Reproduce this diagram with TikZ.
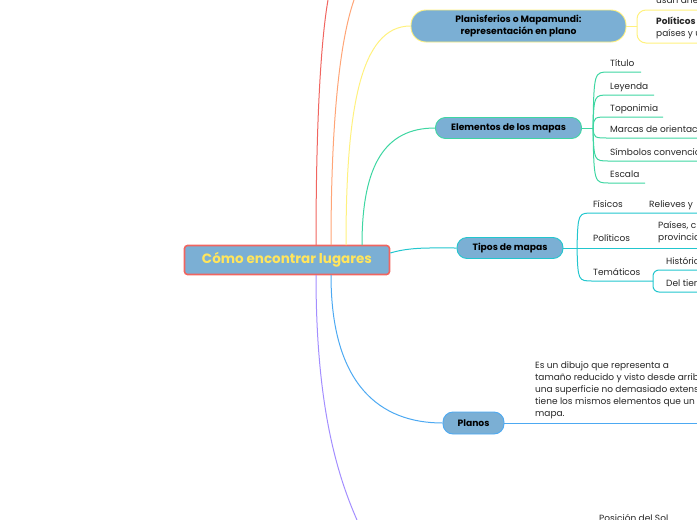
\documentclass[tikz,border=0pt]{standalone}
\usepackage{fontspec}
\setmainfont{Poppins}
\usepackage{tikz}
\usetikzlibrary{positioning}
\definecolor{mmblue}{HTML}{7BAFD4}
\definecolor{mmred}{HTML}{F06560}
\definecolor{mmorange}{HTML}{FFA577}
\definecolor{mmyellow}{HTML}{FFF17E}
\definecolor{mmgreen}{HTML}{3ED6A2}
\definecolor{mmcyan}{HTML}{22C6CE}
\definecolor{mmsky}{HTML}{4DA9F2}
\definecolor{mmviolet}{HTML}{A38EFF}
\definecolor{mmtitle}{HTML}{FFE55C}
\definecolor{mmtext}{HTML}{262626}

\begin{document}
\begin{tikzpicture}[x=1pt, y=-1pt,
  topic/.style={rectangle, rounded corners=10pt, fill=mmblue, line width=0.9pt,
                inner sep=0pt, align=center, text=black,
                font=\fontsize{9.2}{12.5}\selectfont\bfseries},
  leaf/.style={anchor=base west, inner sep=0pt, text=mmtext, align=left,
               font=\fontsize{9}{12}\selectfont},
  branch/.style={line width=1pt}]
  \useasboundingbox (0,0) rectangle (697,520);
  \clip (0,0) rectangle (697,520);

  % central topic
  \node[rectangle, rounded corners=3pt, fill=mmblue, draw=mmred, line width=1.6pt,
        minimum width=205pt, minimum height=29pt, text=mmtitle,
        font=\fontsize{13.5}{15}\selectfont\bfseries] (root) at (287,260) {Cómo encontrar lugares};

  % main topics
  \node[topic, draw=mmyellow, minimum width=215pt, minimum height=32pt, rounded corners=15pt]
    (plani) at (518.5,26) {Planisferios o Mapamundi:\\representación en plano};
  \node[topic, draw=mmgreen, minimum width=146pt, minimum height=21pt] (elem) at (508.5,128) {Elementos de los mapas};
  \node[topic, draw=mmcyan, minimum width=106pt, minimum height=21pt] (tipos) at (510,248) {Tipos de mapas};
  \node[topic, draw=mmsky, minimum width=61pt, minimum height=22pt] (planos) at (473.5,423) {Planos};

  % branches from the central topic
  \coordinate (redend) at (328,0);
  \coordinate (orangeend) at (354,0);
  \coordinate (violetend) at (357,520);
  \draw[branch, mmred] (316,245) .. controls (316,120) and (321,40) .. (redend);
  \draw[branch, mmorange] (331,245) .. controls (331,120) and (340,40) .. (orangeend);
  \draw[branch, mmyellow] (346,245) .. controls (346,110) and (360,26) .. (plani.west);
  \draw[branch, mmgreen] (362,245) .. controls (362,165) and (385,128) .. (elem.west);
  \draw[branch, mmcyan] (root.east) ++(0,-7) .. controls (410,247) and (430,248) .. (tipos.west);
  \draw[branch, mmsky] (331,275) .. controls (331,385) and (380,423) .. (planos.west);
  \draw[branch, mmviolet] (316,275) .. controls (316,400) and (335,470) .. (violetend);

  % Planisferios
  \coordinate (planifork) at (637,26);
  \draw[branch, mmyellow] (plani.east) -- (planifork);
  \draw[branch, mmyellow, rounded corners=9pt] (planifork) |- (697,10);
  \draw[branch, mmyellow, rounded corners=9pt] (planifork) |- (697,43);
  \node[leaf] (usan) at (656,3) {usan ane};
  \node[leaf, anchor=north west] (polit) at (656,17) {\textbf{Políticos}\\países y u};

  % Elementos de los mapas
  \coordinate (elemfork) at (593,128);
  \draw[branch, mmgreen] (elem.east) -- (elemfork);
  \foreach \y/\xend/\txt [count=\i] in {72/641/Título, 95/654/Leyenda, 117/663/Toponimia,
      138/720/Marcas de orientac, 161/720/Símbolos convencio, 183/645/Escala} {
    \draw[branch, mmgreen] (elemfork) .. controls (594,\y) .. (609,\y) -- (\xend,\y);
    \node[leaf] (elem\i) at (610,\y-5.5) {\txt};
  }

  % Tipos de mapas
  \coordinate (tiposfork) at (577,248);
  \coordinate (temafork) at (653,281);
  \draw[branch, mmcyan] (tipos.east) -- (tiposfork);
  \draw[branch, mmcyan] (tiposfork) .. controls (578,213) .. (593,213) -- (697,213);
  \draw[branch, mmcyan] (tiposfork) -- (697,248);
  \draw[branch, mmcyan] (tiposfork) .. controls (578,281) .. (593,281) -- (temafork);
  \draw[branch, mmcyan, rounded corners=6pt] (temafork) |- (697,270);
  \draw[branch, mmcyan, rounded corners=6pt] (temafork) |- (697,292);
  \node[leaf] (fisicos) at (593,207.5) {Físicos};
  \node[leaf] (relieves) at (649,207.5) {Relieves y};
  \node[leaf] (politicos) at (593,241.5) {Políticos};
  \node[leaf, anchor=north west] (paises) at (658,221) {Países, c\\provincia};
  \node[leaf] (tematicos) at (593,275.5) {Temáticos};
  \node[leaf] (historicos) at (666,264) {Históric};
  \node[leaf] (tiempo) at (666,286) {Del tiem};

  % Planos
  \draw[branch, mmsky] (planos.east) -- (697,423);
  \node[leaf, anchor=north west] (planotxt) at (535,361)
    {Es un dibujo que representa a\\tamaño reducido y visto desde arrib\\una superficie no demasiado extens\\tiene los mismos elementos que un\\mapa.};

  \node[leaf, anchor=north west] (sol) at (599,514) {Posición del Sol};
\end{tikzpicture}
\end{document}
